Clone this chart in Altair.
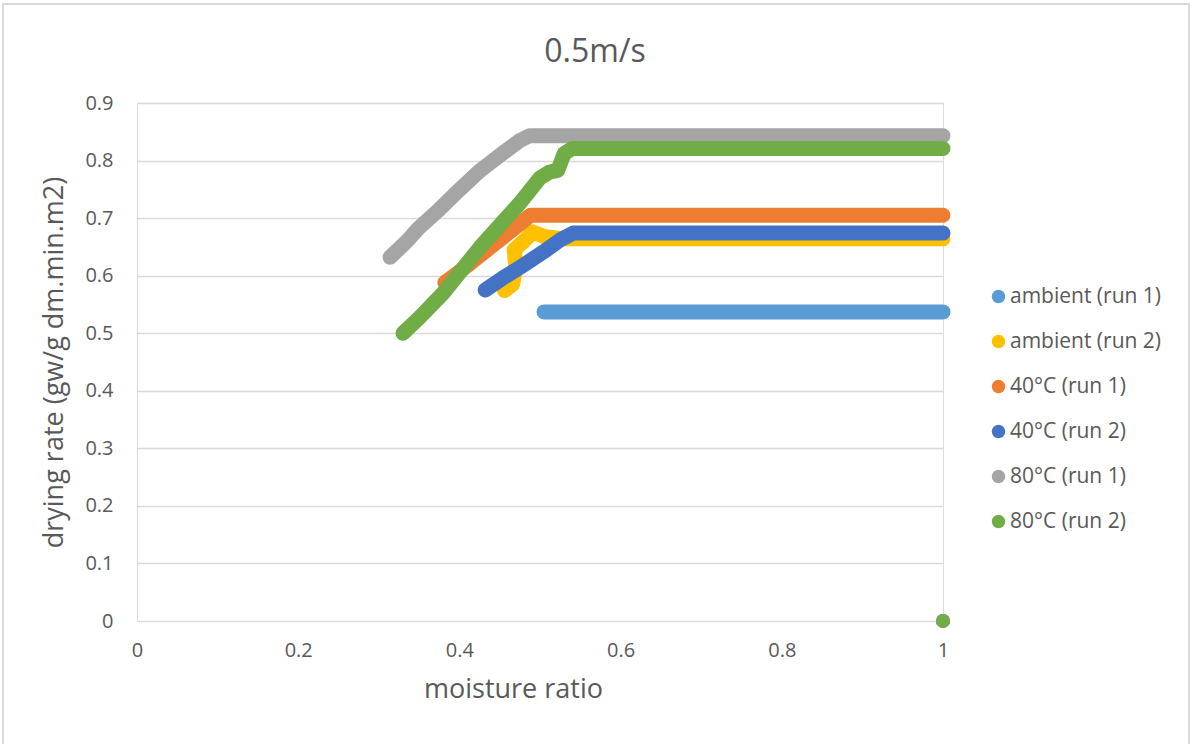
import altair as alt
import pandas as pd

# Drying-rate curves at 0.5 m/s air velocity (moisture ratio vs drying rate)
chart_title = "0.5m/s"
series_names = [
    "ambient (run 1)",
    "ambient (run 2)",
    "40°C (run 1)",
    "40°C (run 2)",
    "80°C (run 1)",
    "80°C (run 2)",
]
series_colors = ["#5B9BD5", "#FFC000", "#ED7D31", "#4472C4", "#A5A5A5", "#70AD47"]

amb1_x = [0.505, 1.0]
amb1_y = [0.537, 0.537]

amb2_x = [0.456, 0.466, 0.470, 0.468, 0.480, 0.491, 0.505, 0.530, 1.0]
amb2_y = [0.574, 0.585, 0.615, 0.645, 0.660, 0.676, 0.668, 0.664, 0.664]

t40r1_x = [0.382, 0.405, 0.430, 0.455, 0.475, 0.488, 1.0]
t40r1_y = [0.588, 0.612, 0.640, 0.668, 0.690, 0.705, 0.705]

t40r2_x = [0.432, 0.454, 0.479, 0.504, 0.525, 0.541, 1.0]
t40r2_y = [0.575, 0.596, 0.618, 0.641, 0.662, 0.674, 0.674]

t80r1_x = [0.314, 0.335, 0.349, 0.375, 0.397, 0.426, 0.454, 0.475, 0.487, 1.0]
t80r1_y = [0.632, 0.660, 0.682, 0.715, 0.745, 0.783, 0.813, 0.835, 0.843, 0.843]

t80r2_x = [0.330, 0.351, 0.380, 0.426, 0.475, 0.500, 0.512, 0.522, 0.530, 0.540, 1.0]
t80r2_y = [0.500, 0.528, 0.570, 0.650, 0.726, 0.770, 0.780, 0.783, 0.812, 0.821, 0.821]

# every run starts with a zero rate at moisture ratio 1
start_x = [1.0, 1.0, 1.0, 1.0, 1.0, 1.0]
start_y = [0.0, 0.0, 0.0, 0.0, 0.0, 0.0]

curves = [
    (amb1_x, amb1_y),
    (amb2_x, amb2_y),
    (t40r1_x, t40r1_y),
    (t40r2_x, t40r2_y),
    (t80r1_x, t80r1_y),
    (t80r2_x, t80r2_y),
]

FONT = "Open Sans"
TEXT = "#595959"
GRID = "#D9D9D9"

x_scale = alt.Scale(domain=[0, 1], nice=False, zero=False)
y_scale = alt.Scale(domain=[0, 0.9], nice=False)

x_axis = alt.Axis(
    title="moisture ratio",
    values=[0, 0.2, 0.4, 0.6, 0.8, 1],
    format="~g",
    grid=False,
    domain=False,
    ticks=False,
    labelFlush=False,
    labelPadding=19,
    labelFontSize=20,
    labelFont=FONT,
    labelColor=TEXT,
    titleFont=FONT,
    titleFontSize=27,
    titleFontWeight="normal",
    titleColor=TEXT,
    titlePadding=16,
    titleX=376,
)
y_axis = alt.Axis(
    title="drying rate (gw/g dm.min.m2)",
    values=[0, 0.1, 0.2, 0.3, 0.4, 0.5, 0.6, 0.7, 0.8, 0.9],
    format="~g",
    grid=True,
    gridColor=GRID,
    gridWidth=1.3,
    domain=False,
    ticks=False,
    labelFlush=False,
    labelPadding=24,
    labelFontSize=20,
    labelFont=FONT,
    labelColor=TEXT,
    titleFont=FONT,
    titleFontSize=27,
    titleFontWeight="normal",
    titleColor=TEXT,
    titlePadding=16,
)

one_row = pd.DataFrame({"k": [0]})

# chart-area border
border = alt.Chart(one_row).mark_rect(
    fill=None, stroke=GRID, strokeWidth=2
).encode(
    x=alt.value(-134), x2=alt.value(1052), y=alt.value(-99), y2=alt.value(680)
)

# chart heading, centred on the whole chart area
heading = alt.Chart(one_row).mark_text(
    text=chart_title,
    font=FONT,
    fontSize=32,
    color=TEXT,
    align="center",
    baseline="alphabetic",
).encode(x=alt.value(458), y=alt.value(-41))

layers = [border, heading]
for name, color, (xs, ys) in zip(series_names, series_colors, curves):
    df = pd.DataFrame({"mr": xs, "rate": ys, "idx": list(range(len(xs)))})
    layers.append(
        alt.Chart(df)
        .mark_line(strokeWidth=15, strokeCap="round", strokeJoin="round", color=color)
        .encode(
            x=alt.X("mr:Q", scale=x_scale, axis=x_axis),
            y=alt.Y("rate:Q", scale=y_scale, axis=y_axis),
            order="idx:Q",
        )
    )

start_df = pd.DataFrame({"mr": start_x, "rate": start_y, "series": series_names})
points = (
    alt.Chart(start_df)
    .mark_circle(size=190, opacity=1)
    .encode(
        x=alt.X("mr:Q", scale=x_scale, axis=x_axis),
        y=alt.Y("rate:Q", scale=y_scale, axis=y_axis),
        color=alt.Color(
            "series:N",
            scale=alt.Scale(domain=series_names, range=series_colors),
            legend=alt.Legend(
                title=None,
                orient="none",
                legendX=851,
                legendY=183,
                symbolType="circle",
                symbolSize=180,
                symbolStrokeWidth=0,
                labelFont=FONT,
                labelFontSize=21,
                labelColor=TEXT,
                labelOffset=1,
                rowPadding=23,
            ),
        ),
        order=alt.Order("series_order:Q"),
    )
    .transform_calculate(series_order="indexof(" + str(series_names) + ", datum.series)")
)
layers.append(points)

chart = (
    alt.layer(*layers)
    .properties(
        width=806,
        height=518,
        autosize=alt.AutoSizeParams(type="none"),
        padding={"left": 137, "top": 103, "right": 249, "bottom": 123},
    )
    .configure_view(stroke=None)
    .configure(background="white")
)

chart.save("out.html", embed_options={"renderer": "svg", "actions": False})
